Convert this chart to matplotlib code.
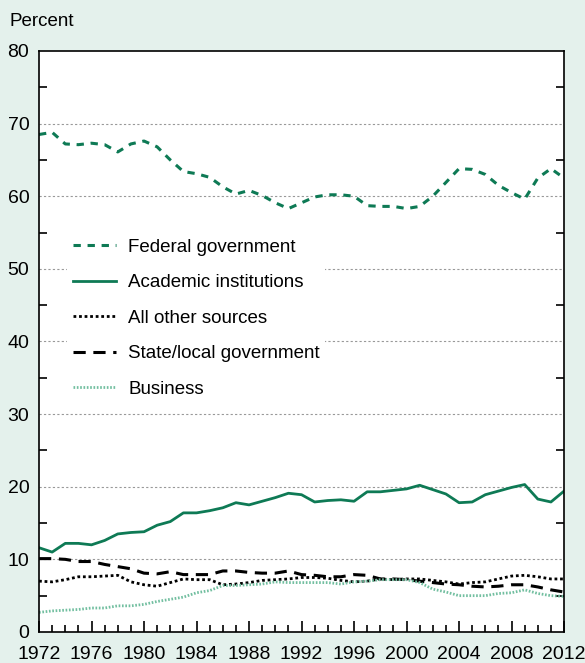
import numpy as np
import matplotlib.pyplot as plt
from matplotlib.ticker import MultipleLocator

plt.rcParams['font.family'] = ['Liberation Sans', 'DejaVu Sans']

years = np.arange(1972, 2013)

federal = [68.5, 68.8, 67.2, 67.1, 67.3, 67.1, 66.1, 67.2, 67.6, 66.8,
           65.0, 63.4, 63.1, 62.6, 61.3, 60.3, 60.8, 60.1, 59.1, 58.3,
           59.1, 59.9, 60.2, 60.2, 60.0, 58.7, 58.6, 58.6, 58.3, 58.6,
           60.0, 61.9, 63.8, 63.7, 63.0, 61.5, 60.5, 59.6, 62.5, 63.8, 62.5]
academic = [11.6, 11.0, 12.2, 12.2, 12.0, 12.6, 13.5, 13.7, 13.8, 14.7,
            15.2, 16.4, 16.4, 16.7, 17.1, 17.8, 17.5, 18.0, 18.5, 19.1,
            18.9, 17.9, 18.1, 18.2, 18.0, 19.3, 19.3, 19.5, 19.7, 20.2,
            19.6, 19.0, 17.8, 17.9, 18.9, 19.4, 19.9, 20.3, 18.3, 17.9, 19.4]
other = [7.0, 6.9, 7.2, 7.6, 7.6, 7.7, 7.8, 6.9, 6.5, 6.3,
         6.8, 7.3, 7.2, 7.2, 6.5, 6.6, 6.8, 7.1, 7.2, 7.3,
         7.5, 7.5, 7.4, 7.1, 6.9, 7.0, 7.3, 7.2, 7.3, 7.3,
         7.1, 6.9, 6.6, 6.8, 6.9, 7.3, 7.7, 7.8, 7.6, 7.3, 7.3]
state = [10.1, 10.1, 10.0, 9.7, 9.7, 9.3, 9.0, 8.7, 8.1, 8.0,
         8.3, 7.9, 7.9, 7.9, 8.4, 8.4, 8.2, 8.1, 8.1, 8.4,
         7.9, 7.8, 7.6, 7.6, 7.9, 7.8, 7.3, 7.3, 7.2, 7.0,
         6.8, 6.6, 6.5, 6.3, 6.2, 6.3, 6.5, 6.5, 6.2, 5.8, 5.5]
business = [2.7, 2.9, 3.0, 3.1, 3.3, 3.3, 3.6, 3.6, 3.8, 4.2,
            4.5, 4.8, 5.4, 5.7, 6.4, 6.4, 6.5, 6.6, 6.9, 6.8,
            6.8, 6.8, 6.8, 6.6, 6.9, 7.0, 7.2, 7.2, 7.2, 6.8,
            5.9, 5.5, 5.0, 5.0, 5.0, 5.3, 5.4, 5.8, 5.3, 5.0, 4.9]

green = '#0e7a55'
light = '#72bfa0'
bg = '#e4f1ec'

fig = plt.figure(figsize=(5.85, 6.63), dpi=100, facecolor=bg)
ax = fig.add_axes([0.0667, 0.0468, 0.8975, 0.8763])
ax.set_facecolor('white')

ax.plot(years, federal, color=green, lw=2.2, ls=(0, (2.4, 2.2)), label='Federal government')
ax.plot(years, academic, color=green, lw=2.0, label='Academic institutions')
ax.plot(years, other, color='black', lw=2.0, ls=(0, (1, 1)), label='All other sources')
ax.plot(years, state, color='black', lw=2.2, ls=(0, (4, 2.5)), label='State/local government')
ax.plot(years, business, color=light, lw=2.0, ls=(0, (0.6, 0.6)), label='Business')

# grid dotted cinza
for g in range(10, 80, 10):
    ax.axhline(g, color='#999999', lw=0.8, ls=(0, (2, 2)), zorder=0)

ax.set_xlim(1972, 2012)
ax.set_ylim(0, 80)
ax.set_xticks(range(1972, 2013, 4))
ax.xaxis.set_minor_locator(MultipleLocator(1))
ax.set_yticks(range(0, 81, 10))
ax.yaxis.set_minor_locator(MultipleLocator(5))
ax.tick_params(axis='x', which='major', direction='in', length=8, width=1.2, labelsize=14, pad=10)
ax.tick_params(axis='x', which='minor', direction='in', length=5, width=1.2)
ax.tick_params(axis='y', which='major', length=0, labelsize=14, pad=7)
ax.tick_params(axis='y', which='minor', direction='in', length=6, width=1.2, right=True)
for s in ax.spines.values():
    s.set_linewidth(1.2)

fig.text(0.017, 0.967, 'Percent', fontsize=13.5, ha='left', va='center')

leg = ax.legend(loc='upper left', bbox_to_anchor=(0.036, 0.703), frameon=True,
                facecolor='white', edgecolor='none', framealpha=1, fontsize=13.5,
                handlelength=2.3, handletextpad=0.65, labelspacing=0.98,
                borderpad=0.3)
leg.get_frame().set_boxstyle('square', pad=0)

fig.savefig('out.png', dpi=100, facecolor=bg)
